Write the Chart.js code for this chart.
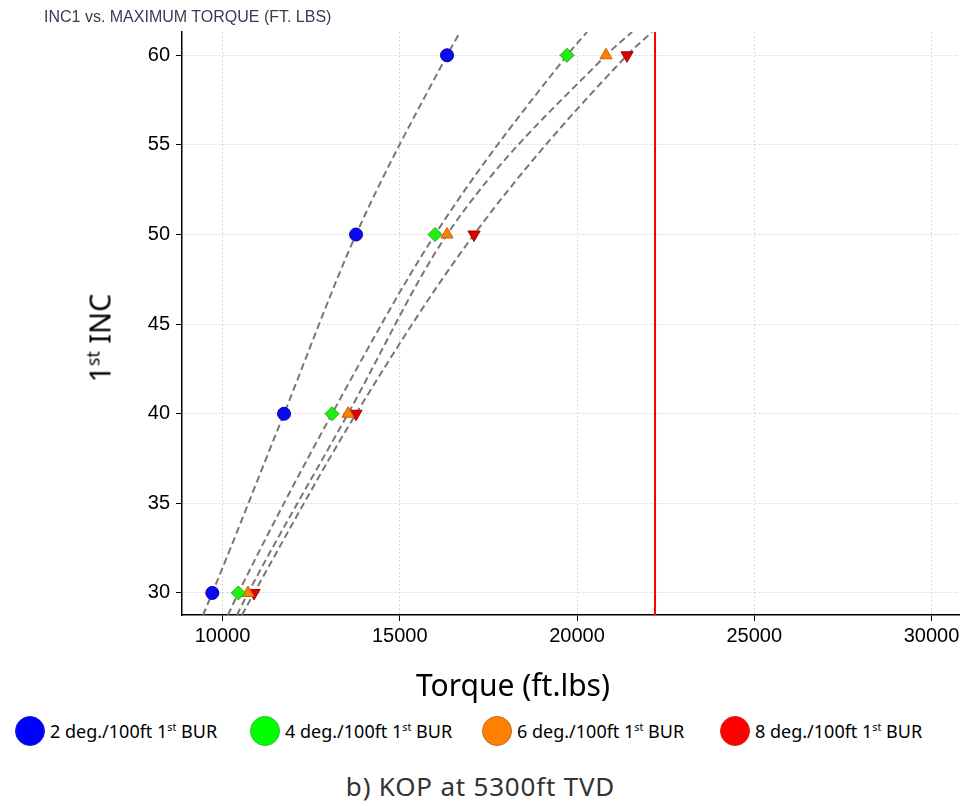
<!DOCTYPE html>
<html>
<head>
<meta charset="utf-8">
<script src="https://cdn.jsdelivr.net/npm/chart.js@4.4.1/dist/chart.umd.min.js"></script>
<style>
  body { margin: 0; background: #fff; }
  #wrap { position: relative; width: 961px; height: 806px; overflow: hidden; }
  #torqueChart { position: absolute; left: 0; top: 0; }
  .title { position: absolute; left: 44px; top: 8px; font: 16px "Liberation Sans", Arial, sans-serif; color: #3b3b55; }
  .xTitle { position: absolute; left: 0; width: 1026px; top: 664px; text-align: center; font: 30px "Noto Sans", sans-serif; color: #000; }
  .yTitle { position: absolute; left: 99px; top: 338px; transform: translate(-50%, -50%) rotate(-90deg); font: 29px "Noto Sans", sans-serif; color: #000; white-space: nowrap; }
  .legend { position: absolute; top: 716px; left: 0; width: 961px; height: 34px; }
  .legItem { position: absolute; display: flex; align-items: center; font: 18px "Noto Sans", sans-serif; color: #000; white-space: nowrap; }
  .legItem i { display: inline-block; width: 30px; height: 30px; border-radius: 50%; margin-right: 5px; box-sizing: border-box; }
  .caption { position: absolute; left: 0; width: 961px; top: 768px; text-align: center; font: 26px "Noto Sans", sans-serif; letter-spacing: 0.8px; color: #333; }
  sup { font-size: 60%; }
</style>
</head>
<body>
<div id="wrap">
  <!-- canvas is a bit wider than the page so the last x label has room -->
  <canvas id="torqueChart" width="990" height="700"></canvas>
  <div class="title">INC1 vs. MAXIMUM TORQUE (FT. LBS)</div>
  <div class="yTitle">1<sup>st</sup> INC</div>
  <div class="xTitle">Torque (ft.lbs)</div>
  <div class="legend" id="legend"></div>
  <div class="caption">b) KOP at 5300ft TVD</div>
</div>
<script>
// 1st INC levels (y) and max torque per build-up rate (x)
const incLevels = [30, 40, 50, 60];
const burNames = ['2 deg./100ft', '4 deg./100ft', '6 deg./100ft', '8 deg./100ft'];
const torque2 = [9712, 11735, 13766, 16333];
const torque4 = [10446, 13089, 15995, 19718];
const torque6 = [10720, 13540, 16333, 20818];
const torque8 = [10889, 13766, 17095, 21411];

// where the dashed trend curves leave the plot
const trendInc = [28.77, 61.3];
const trendLow = [9450, 10155, 10409, 10550];
const trendHigh = [16700, 20283, 21552, 22116];

const torqueLimit = 22200;
const xRange = [8857, 30775];
const xTickValues = [10000, 15000, 20000, 25000, 30000];
const yTickValues = [30, 35, 40, 45, 50, 55, 60];

const colors = ['#0a0af0', '#22ee11', '#ff8000', '#e00000'];
const borders = ['#0000b0', '#1caa10', '#c06010', '#a00000'];
const legendFill = ['#0000ff', '#00ff00', '#ff8000', '#ff0000'];
const legendEdge = ['#2020c0', '#30c030', '#c06a20', '#d02020'];
const legendX = [15, 250, 482, 720];
const shapes = ['circle', 'rectRot', 'triangle', 'triangle'];
const rotations = [0, 0, 0, 180];

const allTorque = [torque2, torque4, torque6, torque8];

function pts(xs, ys) {
  return xs.map((x, i) => ({ x: x, y: ys[i] }));
}

const datasets = [];
allTorque.forEach((t, k) => {
  // trend curve through the points, extended to the plot edges
  const trendX = [trendLow[k]].concat(t, [trendHigh[k]]);
  const trendY = [trendInc[0]].concat(incLevels, [trendInc[1]]);
  datasets.push({
    data: pts(trendX, trendY),
    showLine: true,
    borderColor: '#777',
    borderWidth: 2,
    borderDash: [7, 4],
    pointRadius: 0,
    cubicInterpolationMode: 'monotone',
    order: 2
  });
  datasets.push({
    data: pts(t, incLevels),
    showLine: false,
    pointStyle: shapes[k],
    rotation: rotations[k],
    pointRadius: k === 0 ? 6.5 : 7,
    backgroundColor: colors[k],
    borderColor: borders[k],
    borderWidth: 1,
    order: 1
  });
});

// max torque limit
datasets.push({
  data: pts([torqueLimit, torqueLimit], trendInc),
  showLine: true,
  borderColor: '#ff0000',
  borderWidth: 2,
  pointRadius: 0,
  order: 0
});

const tickFont = { family: '"Liberation Sans", Arial, sans-serif', size: 20 };

new Chart(document.getElementById('torqueChart'), {
  type: 'scatter',
  data: { datasets: datasets },
  options: {
    responsive: false,
    animation: false,
    layout: { padding: { top: 32, right: 31, left: 0, bottom: 0 } },
    plugins: { legend: { display: false }, tooltip: { enabled: false } },
    scales: {
      x: {
        type: 'linear',
        min: xRange[0],
        max: xRange[1],
        afterBuildTicks: s => { s.ticks = xTickValues.map(v => ({ value: v })); },
        ticks: { color: '#000', font: tickFont, padding: 3, maxRotation: 0, autoSkip: false, callback: v => String(v) },
        grid: { color: '#d8d8d8', tickColor: '#000', tickLength: 6 },
        border: { color: '#000', width: 1.5, dash: [2, 2] },
        afterFit: s => { s.height = 85; }
      },
      y: {
        type: 'linear',
        min: trendInc[0],
        max: trendInc[1],
        afterBuildTicks: s => { s.ticks = yTickValues.map(v => ({ value: v })); },
        ticks: { color: '#000', font: tickFont, padding: 6, autoSkip: false, callback: v => String(v) },
        grid: { color: '#d8d8d8', tickColor: '#000', tickLength: 6 },
        border: { color: '#000', width: 1.5, dash: [2, 2] },
        afterFit: s => { s.width = 182; }
      }
    }
  }
});

// legend below the chart
const legend = document.getElementById('legend');
burNames.forEach((name, k) => {
  const item = document.createElement('div');
  item.className = 'legItem';
  item.style.left = legendX[k] + 'px';
  item.innerHTML = '<i style="background:' + legendFill[k] + ';border:1px solid ' + legendEdge[k] + '"></i>' +
    '<span>' + name + ' 1<sup>st</sup> BUR</span>';
  legend.appendChild(item);
});
</script>
</body>
</html>
